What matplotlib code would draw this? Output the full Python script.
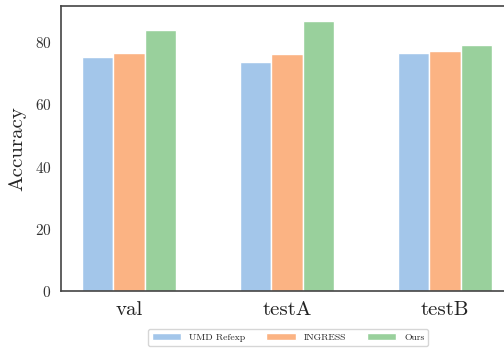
import matplotlib
matplotlib.use("Agg")
import matplotlib.pyplot as plt
import numpy as np
import seaborn as sns

sns.set_style("white")
plt.rcParams['font.family'] = ['cmr10', 'DejaVu Serif']
plt.rcParams['axes.formatter.use_mathtext'] = True
plt.rcParams['mathtext.fontset'] = 'cm'

splits = ['val', 'testA', 'testB']
methods = ['UMD Refexp', 'INGRESS', 'Ours']
umd = [75.0, 73.6, 76.3]
ingress = [76.5, 76.2, 77.1]
ours = [83.7, 86.8, 78.9]
colors = ['#a3c6ea', '#fbb383', '#99d09c']

fig = plt.figure(figsize=(5.04, 3.49), dpi=100)
ax = fig.add_axes([0.121, 0.165, 0.879, 0.818])

x = np.arange(len(splits))
w = 0.2
for i, (vals, name) in enumerate(zip([umd, ingress, ours], methods)):
    ax.bar(x + (i - 1) * w, vals, w, color=colors[i], edgecolor='white',
           linewidth=1, label=name)

ax.set_xticks(x)
ax.set_xticklabels(splits, fontsize=15)
ax.set_xlim(-0.43, 2.374)
ax.set_ylim(0, 91.5)
ax.set_yticks([0, 20, 40, 60, 80])
ax.tick_params(axis='y', labelsize=11, colors='#333333')
ax.tick_params(axis='x', colors='#222222')
ax.set_ylabel('Accuracy', fontsize=15, labelpad=6)
for s in ['left', 'bottom', 'top']:
    ax.spines[s].set_color('#444444')
    ax.spines[s].set_linewidth(1.2)
ax.spines['right'].set_visible(False)

ax.legend(loc='upper center', bbox_to_anchor=(0.513, -0.115), ncol=3,
          fontsize=7, frameon=True, handlelength=3, columnspacing=2.2)

fig.savefig('out.png', dpi=100)
